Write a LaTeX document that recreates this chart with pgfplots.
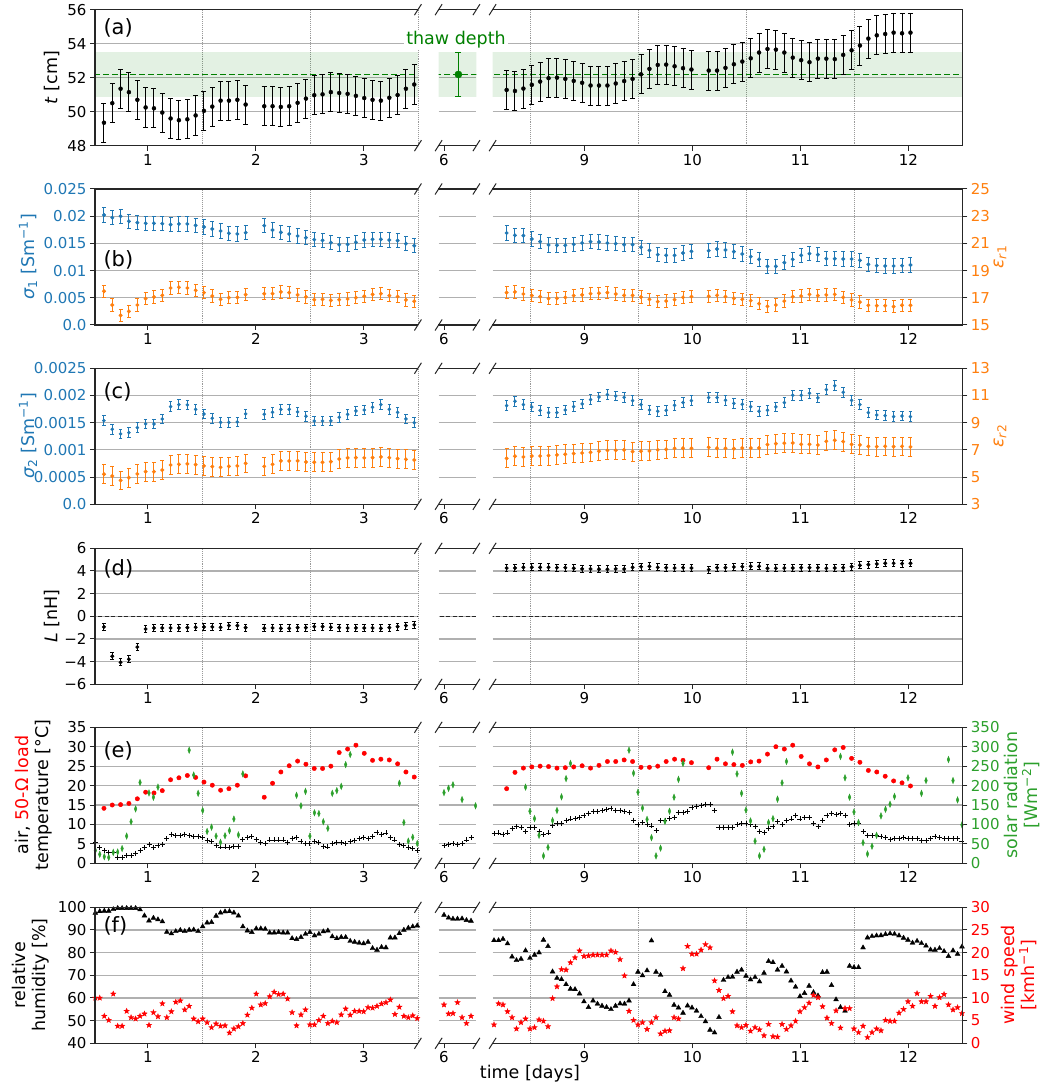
\documentclass[border=0pt]{standalone}
\usepackage{fontspec}
\setmainfont{DejaVu Sans}
\usepackage{pgfplots}
\usepackage{pgfplotstable}
\pgfplotsset{compat=1.18}

\definecolor{mplblue}{HTML}{1F77B4}
\definecolor{mplorange}{HTML}{FF7F0E}
\definecolor{mplgreen}{HTML}{2CA02C}
\definecolor{thawgreen}{HTML}{008000}
\definecolor{gridgray}{HTML}{B0B0B0}

\newcommand{\tickfont}{\fontsize{15}{18}\selectfont}
\newcommand{\labfont}{\fontsize{17.5}{20}\selectfont}
\newcommand{\panfont}{\fontsize{21}{25}\selectfont}

% filled five-pointed star
\pgfdeclareplotmark{fstar}{%
  \pgfpathmoveto{\pgfpointpolar{90}{\pgfplotmarksize}}%
  \pgfpathlineto{\pgfpointpolar{126}{0.42\pgfplotmarksize}}%
  \pgfpathlineto{\pgfpointpolar{162}{\pgfplotmarksize}}%
  \pgfpathlineto{\pgfpointpolar{198}{0.42\pgfplotmarksize}}%
  \pgfpathlineto{\pgfpointpolar{234}{\pgfplotmarksize}}%
  \pgfpathlineto{\pgfpointpolar{270}{0.42\pgfplotmarksize}}%
  \pgfpathlineto{\pgfpointpolar{306}{\pgfplotmarksize}}%
  \pgfpathlineto{\pgfpointpolar{342}{0.42\pgfplotmarksize}}%
  \pgfpathlineto{\pgfpointpolar{18}{\pgfplotmarksize}}%
  \pgfpathlineto{\pgfpointpolar{54}{0.42\pgfplotmarksize}}%
  \pgfpathclose
  \pgfusepathqfillstroke
}

% thickness t, conductivities, permittivities, inductance, load temperature
% on the 37 + 48 probe readings
\pgfplotstableread{
x a b1 e1 s2 e2 L T
0.593 49.35 0.02022 17.48 0.001538 5.21 -0.94 14.15
0.670 50.50 0.01973 16.47 0.001379 5.08 -3.53 15.0
0.747 51.35 0.02000 15.71 0.001293 4.76 -4.06 15.1
0.824 51.15 0.01906 16.00 0.001317 4.96 -3.79 15.4
0.902 50.70 0.01881 16.47 0.001409 5.23 -2.71 16.6
0.979 50.25 0.01869 16.94 0.001477 5.40 -1.12 18.3
1.056 50.20 0.01869 17.06 0.001477 5.40 -1.03 18.1
1.133 49.95 0.01863 17.18 0.001569 5.52 -1.03 18.7
1.210 49.60 0.01844 17.72 0.001795 5.89 -1.03 21.5
1.287 49.50 0.01857 17.77 0.001832 5.94 -1.03 22.0
1.365 49.55 0.01857 17.72 0.001826 5.97 -1.00 22.6
1.442 49.78 0.01832 17.55 0.001746 5.92 -0.97 22.1
1.519 50.05 0.01801 17.38 0.001661 5.82 -0.94 20.9
1.596 50.30 0.01765 17.13 0.001581 5.77 -0.94 20.1
1.673 50.65 0.01728 16.89 0.001507 5.72 -0.97 18.8
1.750 50.65 0.01685 17.01 0.001507 5.79 -0.82 19.2
1.828 50.70 0.01673 17.03 0.001513 5.82 -0.82 20.1
1.905 50.42 0.01697 17.23 0.001661 6.01 -1.00 22.5
2.077 50.32 0.01826 17.30 0.001654 5.79 -1.06 17.0
2.154 50.32 0.01746 17.30 0.001691 5.94 -1.03 20.6
2.231 50.28 0.01703 17.43 0.001746 6.19 -1.06 23.5
2.308 50.32 0.01673 17.38 0.001746 6.19 -1.06 25.1
2.386 50.52 0.01636 17.21 0.001697 6.19 -1.00 26.3
2.463 50.77 0.01605 17.06 0.001618 6.11 -1.00 25.5
2.540 50.97 0.01569 16.86 0.001532 6.09 -0.91 24.4
2.617 51.02 0.01556 16.89 0.001532 6.09 -0.91 24.4
2.694 51.15 0.01513 16.81 0.001532 6.14 -0.97 25.0
2.771 51.10 0.01477 16.86 0.001599 6.33 -1.00 28.5
2.849 51.05 0.01483 16.91 0.001654 6.41 -1.03 29.4
2.926 50.93 0.01520 17.01 0.001716 6.43 -1.03 30.4
3.003 50.80 0.01562 17.11 0.001734 6.41 -1.03 28.3
3.080 50.70 0.01575 17.25 0.001783 6.43 -1.03 26.5
3.157 50.65 0.01575 17.30 0.001832 6.48 -1.06 26.8
3.235 50.82 0.01562 17.16 0.001746 6.43 -1.00 26.6
3.312 50.98 0.01550 17.08 0.001691 6.36 -0.91 25.6
3.389 51.35 0.01495 16.84 0.001569 6.31 -0.82 23.5
3.466 51.60 0.01458 16.74 0.001501 6.26 -0.76 22.2
}\tabL

\pgfplotstableread{
x a b1 e1 s2 e2 L T
8.280 51.28 0.01691 17.38 0.001814 6.38 4.26 19.2
8.357 51.22 0.01648 17.43 0.001893 6.53 4.26 23.4
8.435 51.36 0.01642 17.28 0.001832 6.48 4.32 24.5
8.513 51.58 0.01581 17.16 0.001789 6.55 4.32 24.8
8.590 51.77 0.01532 17.08 0.001728 6.55 4.32 25.0
8.668 51.97 0.01471 16.94 0.001685 6.58 4.32 24.9
8.746 52.00 0.01465 16.96 0.001685 6.63 4.29 24.5
8.823 51.93 0.01465 17.03 0.001734 6.68 4.29 24.6
8.901 51.81 0.01483 17.16 0.001795 6.73 4.24 24.8
8.979 51.70 0.01507 17.21 0.001844 6.77 4.18 25.1
9.057 51.54 0.01532 17.30 0.001924 6.82 4.18 24.5
9.135 51.54 0.01526 17.33 0.001973 6.90 4.15 25.2
9.213 51.54 0.01507 17.38 0.002016 6.97 4.15 26.2
9.290 51.66 0.01495 17.28 0.001991 6.97 4.18 26.2
9.368 51.80 0.01477 17.18 0.001967 7.00 4.18 26.6
9.446 51.93 0.01477 17.18 0.001906 6.87 4.32 26.2
9.524 52.20 0.01428 17.06 0.001832 6.90 4.38 24.7
9.602 52.52 0.01373 16.89 0.001734 6.92 4.41 24.7
9.679 52.75 0.01293 16.72 0.001710 7.00 4.32 25.0
9.757 52.77 0.01281 16.76 0.001728 7.04 4.29 26.2
9.835 52.67 0.01281 16.86 0.001820 7.12 4.26 26.8
9.913 52.56 0.01324 17.03 0.001869 7.12 4.29 26.5
9.991 52.48 0.01354 17.08 0.001906 7.12 4.26 25.9
10.151 52.42 0.01366 17.11 0.001961 7.19 4.12 24.6
10.228 52.42 0.01397 17.18 0.001961 7.12 4.29 26.8
10.306 52.58 0.01379 17.08 0.001912 7.12 4.29 25.6
10.384 52.79 0.01348 16.96 0.001857 7.09 4.35 25.4
10.462 52.95 0.01305 16.89 0.001838 7.14 4.38 25.2
10.540 53.14 0.01256 16.79 0.001795 7.14 4.41 26.1
10.617 53.48 0.01207 16.57 0.001710 7.14 4.41 26.3
10.695 53.69 0.01078 16.37 0.001728 7.39 4.24 28.1
10.773 53.65 0.01078 16.47 0.001789 7.46 4.24 30.0
10.851 53.48 0.01146 16.76 0.001869 7.49 4.26 29.4
10.929 53.18 0.01207 17.08 0.002004 7.51 4.26 30.4
11.007 53.03 0.01281 17.13 0.002004 7.41 4.29 27.5
11.084 52.91 0.01311 17.25 0.002040 7.41 4.29 25.6
11.162 53.12 0.01293 17.16 0.001955 7.36 4.29 24.8
11.240 53.12 0.01219 17.21 0.002108 7.63 4.24 26.6
11.318 53.09 0.01219 17.25 0.002181 7.71 4.26 29.2
11.396 53.34 0.01213 17.03 0.002059 7.61 4.29 29.8
11.474 53.61 0.01213 16.84 0.001912 7.41 4.38 27.0
11.551 53.89 0.01189 16.69 0.001832 7.36 4.50 26.0
11.629 54.30 0.01115 16.45 0.001685 7.26 4.56 23.9
11.707 54.49 0.01091 16.42 0.001642 7.24 4.62 23.5
11.785 54.57 0.01085 16.42 0.001630 7.26 4.68 22.4
11.863 54.65 0.01085 16.35 0.001612 7.24 4.68 21.2
11.941 54.61 0.01091 16.45 0.001624 7.26 4.65 20.7
12.019 54.65 0.01103 16.45 0.001612 7.22 4.68 19.9
}\tabR

% hourly weather station record: air temperature, solar radiation,
% relative humidity, wind speed
\pgfplotstableread{
x air sol rh wind
0.513 5.4 33 97.5 10.0
0.554 4.1 23 98.2 10.0
0.596 3.3 17 98.4 6.0
0.637 2.8 15 98.4 5.1
0.679 2.7 28 99.1 10.9
0.720 1.5 29 99.6 3.8
0.761 1.6 38 99.6 3.8
0.803 2.0 70 99.6 7.1
0.844 2.1 107 99.6 5.7
0.886 2.6 140 99.6 5.4
0.927 3.2 208 99.0 6.0
0.968 4.0 nan 96.3 6.5
1.010 4.8 181 94.1 4.0
1.051 4.1 170 95.3 6.8
1.093 4.7 196 94.6 5.9
1.134 4.9 nan 93.7 8.75
1.175 6.3 nan 89.1 5.7
1.217 7.5 nan 88.4 7.0
1.258 7.1 nan 89.4 9.1
1.300 7.2 nan 89.9 9.4
1.341 7.5 nan 89.4 7.4
1.382 7.1 291 90.0 8.2
1.424 6.8 227 90.1 5.4
1.465 6.9 180 89.4 4.8
1.507 6.6 136 91.5 5.4
1.548 5.9 82 93.2 4.6
1.589 5.7 93 93.4 3.5
1.631 4.5 70 96.2 4.3
1.672 4.2 54 97.6 3.8
1.714 4.2 71 98.1 3.9
1.755 4.1 84 98.2 2.3
1.796 4.4 114 97.6 3.2
1.838 4.3 73 96.3 3.7
1.879 6.1 230 91.5 4.4
1.921 6.7 nan 89.7 6.25
1.962 6.8 nan 89.0 7.8
2.003 6.1 nan 90.6 10.9
2.045 5.4 nan 90.6 8.5
2.086 5.1 nan 90.4 8.8
2.128 6.0 nan 88.8 10.3
2.169 6.0 nan 88.8 11.3
2.210 6.0 nan 89.0 10.8
2.252 6.0 nan 88.8 10.9
2.293 5.4 nan 88.8 9.8
2.335 6.5 nan 86.3 6.8
2.376 6.7 175 85.9 3.9
2.417 5.7 148 86.8 6.3
2.459 5.1 185 88.2 7.4
2.500 5.1 70 89.0 4.1
2.542 5.6 130 87.5 4.1
2.583 5.3 128 88.2 5.1
2.624 4.3 107 89.3 6.0
2.666 4.2 90 89.7 4.4
2.707 5.1 180 87.1 4.9
2.749 5.4 187 86.3 4.6
2.790 5.3 198 86.8 6.3
2.831 5.1 254 86.8 7.6
2.873 5.7 280 85.1 6.25
2.914 5.9 nan 84.7 7.1
2.956 6.3 nan 84.3 7.1
2.997 6.7 nan 84.0 7.0
3.038 6.3 nan 84.7 7.9
3.080 7.0 nan 81.9 7.8
3.121 8.0 nan 81.2 8.2
3.163 7.5 nan 82.4 8.7
3.204 7.8 nan 82.2 9.0
3.245 6.7 nan 86.6 9.6
3.287 6.0 nan 86.6 6.4
3.328 4.9 206 88.5 8.0
3.370 4.5 105 90.0 6.0
3.411 4.1 57 90.9 5.7
3.452 3.7 67 91.5 6.1
3.494 3.3 51 91.9 5.5
3.535 3.1 69 93.1 6.0
}\wxL

\pgfplotstableread{
x air sol rh wind
6.000 4.5 182 96.6 8.5
6.042 4.9 193 95.4 6.5
6.083 5.0 202 94.9 6.6
6.125 4.8 nan 94.9 9.0
6.167 5.0 164 95.0 5.7
6.208 6.0 nan 94.3 4.4
6.250 6.6 nan 94.0 6.0
6.292 nan 148 nan nan
}\wxM

\pgfplotstableread{
x air sol rh wind
8.163 7.7 nan 85.4 4.1
8.205 7.8 nan 85.4 8.75
8.246 7.5 nan 86.0 8.5
8.288 7.8 nan 84.0 7.0
8.330 9.0 nan 78.2 5.7
8.371 9.4 nan 76.6 3.2
8.413 9.2 nan 77.2 4.6
8.455 8.1 196 80.9 5.4
8.496 9.2 134 77.6 3.2
8.538 9.2 115 79.0 3.5
8.580 8.2 72 80.0 5.2
8.621 7.3 19 85.6 4.9
8.663 7.8 41 82.8 3.7
8.705 9.8 110 71.6 9.9
8.746 10.3 136 68.8 12.5
8.788 10.3 171 68.2 16.3
8.830 11.1 218 66.0 16.2
8.871 11.4 257 64.0 17.8
8.913 11.5 nan 63.8 18.9
8.955 11.7 nan 61.9 20.4
8.996 12.3 nan 58.4 19.2
9.038 12.9 nan 55.9 19.3
9.080 13.4 nan 58.8 19.5
9.121 13.4 nan 57.4 19.5
9.163 13.6 nan 56.5 19.5
9.205 13.9 nan 55.9 19.5
9.246 14.0 nan 55.0 20.4
9.288 13.7 nan 56.5 20.1
9.330 13.6 nan 57.5 18.5
9.371 13.4 nan 57.4 14.9
9.413 13.0 291 58.8 7.1
9.455 11.1 232 66.0 5.1
9.496 10.1 183 71.5 4.1
9.538 10.5 142 69.9 4.6
9.580 10.0 113 72.1 3.1
9.621 9.6 66 85.3 4.6
9.663 8.4 19 71.5 5.7
9.705 10.9 39 70.1 2.1
9.746 11.1 108 62.9 2.7
9.788 11.6 134 61.3 2.8
9.830 11.8 170 56.9 5.7
9.871 13.0 216 55.7 5.4
9.913 13.1 257 53.4 16.5
9.955 13.4 nan 56.6 21.4
9.996 14.3 nan 55.7 19.7
10.038 14.7 nan 54.3 19.7
10.080 15.0 nan 51.9 20.6
10.121 15.2 nan 49.6 21.8
10.163 15.2 nan 45.9 21.1
10.205 13.6 nan 44.7 13.8
10.246 9.3 nan 51.5 11.7
10.288 9.3 nan 67.9 9.9
10.330 9.2 nan 69.1 10.4
10.371 9.3 286 69.3 7.0
10.413 10.0 230 71.5 3.9
10.455 10.3 180 72.4 3.5
10.496 10.2 137 69.7 4.0
10.538 10.1 109 68.1 2.7
10.580 9.4 57 69.1 3.5
10.621 8.3 19 67.2 3.0
10.663 8.0 36 71.0 1.7
10.705 8.9 105 76.2 4.2
10.746 9.5 115 75.7 1.5
10.788 10.7 165 72.4 1.4
10.830 9.9 207 74.1 4.2
10.871 10.9 262 71.6 3.1
10.913 11.4 nan 67.6 3.9
10.955 12.4 nan 64.9 4.9
10.996 11.4 nan 60.7 7.0
11.038 11.8 nan 62.1 7.9
11.080 11.8 nan 65.3 8.9
11.121 10.3 nan 62.5 10.6
11.163 9.4 nan 61.0 10.1
11.205 11.1 nan 71.3 8.1
11.246 12.2 nan 71.5 5.6
11.288 12.9 nan 65.6 4.4
11.330 12.5 nan 59.3 7.2
11.371 12.7 275 55.9 3.4
11.413 12.4 220 54.3 7.7
11.455 10.1 170 74.1 7.7
11.496 10.3 132 73.5 3.2
11.538 10.3 105 73.5 2.4
11.580 8.2 53 82.2 3.8
11.621 7.2 24 86.6 1.3
11.663 7.2 44 87.2 2.4
11.705 7.1 72 87.5 3.2
11.746 6.9 122 87.6 2.8
11.788 6.6 139 88.1 5.1
11.830 6.2 152 88.4 4.9
11.871 6.4 172 88.2 4.9
11.913 6.4 nan 87.5 6.7
11.955 6.6 nan 86.5 7.5
11.996 6.3 220 85.6 9.2
12.038 6.3 nan 84.3 8.2
12.080 6.3 nan 85.1 11.0
12.121 5.9 180 84.1 9.2
12.163 5.9 213 83.0 9.2
12.205 6.4 nan 81.3 10.4
12.246 6.8 nan 81.2 8.2
12.288 6.6 nan 81.9 10.1
12.330 6.3 nan 80.6 10.8
12.371 6.5 267 78.4 8.5
12.413 6.4 213 80.9 7.4
12.455 6.3 163 79.4 7.9
12.496 5.7 99 82.6 6.6
}\wxR

\tikzset{
  spine/.style={line width=1.1pt, black!85, line cap=rect},
  brk/.style={line width=1pt, black!85},
}

\pgfplotsset{
  every axis/.append style={
    scale only axis, height=136pt, anchor=south west,
    axis line style={draw=none},
    tick align=outside, major tick length=5pt,
    tick style={black!85, line width=1pt},
    tick label style={font=\tickfont},
    /pgf/number format/assume math mode=true,
    scaled y ticks=false, scaled x ticks=false,
    xtick pos=bottom,
    major grid style={gridgray, line width=1.1pt},
  },
  segL/.style={at={(95pt,#1)}, width=322.92pt, xmin=0.51, xmax=3.5, xtick={1,2,3}},
  segM/.style={at={(438.6pt,#1)}, width=37.8pt, xmin=5.95, xmax=6.3, xtick={6}},
  segR/.style={at={(492.6pt,#1)}, width=469.8pt, xmin=8.15, xmax=12.5, xtick={9,10,11,12}},
  main/.style={ymajorgrids, ytick pos=left},
  inner/.style={main, yticklabels={}, ytick style={draw=none}},
  gridL/.style={extra x ticks={1.5,2.5,3.5}, extra x tick labels={},
    extra x tick style={grid=major, major grid style={gray!80, densely dotted, line width=0.7pt}, major tick length=0pt}},
  gridR/.style={extra x ticks={8.5,9.5,10.5,11.5}, extra x tick labels={},
    extra x tick style={grid=major, major grid style={gray!80, densely dotted, line width=0.7pt}, major tick length=0pt}},
  twin/.style={hide axis},
  twinR/.style={axis x line=none, axis y line*=right, ytick pos=right},
  band/.style={draw=none, fill=thawgreen, fill opacity=0.11, forget plot},
  thaw/.style={thawgreen, line width=1.3pt, dash pattern=on 6pt off 3pt},
  zero/.style={black!85, line width=1.2pt, dash pattern=on 4pt off 2.5pt},
  errpts/.style n args={4}{only marks, mark=*, mark size=#3, color=#1,
    error bars/y dir=both, error bars/y fixed=#2,
    error bars/error bar style={line width=1pt, #1},
    error bars/error mark options={rotate=90, mark size=#4, line width=0.9pt, #1}},
  % sigma_2 axis is drawn in mS/m internally, labelled in S/m
  sigtwo/.style={ymin=0, ymax=2.5, ytick={0,0.5,1,1.5,2,2.5}},
}

\newcommand{\spL}[1]{\draw[spine] (#1.north east) -- (#1.north west) -- (#1.south west) -- (#1.south east);}
\newcommand{\spM}[1]{\draw[spine] (#1.north west) -- (#1.north east) (#1.south west) -- (#1.south east);}
\newcommand{\spR}[1]{\draw[spine] (#1.north west) -- (#1.north east) -- (#1.south east) -- (#1.south west);}
\newcommand{\brkat}[1]{\draw[brk] (#1) ++(-3.5pt,-5.5pt) -- ++(7pt,11pt);}
\newcommand{\brks}[3]{\brkat{#1.north east}\brkat{#1.south east}%
  \brkat{#2.north west}\brkat{#2.south west}\brkat{#2.north east}\brkat{#2.south east}%
  \brkat{#3.north west}\brkat{#3.south west}}

\begin{document}
\begin{tikzpicture}[x=1pt, y=1pt]
\path[use as bounding box] (0,0) rectangle (1043,1089);

% ================= (a) thickness
\begin{axis}[segL=943.3pt, main, gridL, ymin=48, ymax=56, ytick={48,50,52,54,56}, name=aL]
\addplot[band] coordinates {(0,50.87) (13,50.87) (13,53.49) (0,53.49)};
\addplot[thaw] coordinates {(0,52.19) (13,52.19)};
\addplot[errpts={black}{1.15}{2pt}{2.5pt}] table[x=x, y=a] {\tabL};
\end{axis}
\begin{axis}[segM=943.3pt, inner, ymin=48, ymax=56, ytick={48,50,52,54,56}, name=aM]
\addplot[band] coordinates {(0,50.87) (13,50.87) (13,53.49) (0,53.49)};
\addplot[thaw] coordinates {(0,52.19) (13,52.19)};
\addplot[errpts={thawgreen}{1.31}{3.6pt}{3pt}] coordinates {(6.133,52.19)};
\end{axis}
\begin{axis}[segR=943.3pt, inner, gridR, ymin=48, ymax=56, ytick={48,50,52,54,56}, name=aR]
\addplot[band] coordinates {(0,50.87) (13,50.87) (13,53.49) (0,53.49)};
\addplot[thaw] coordinates {(0,52.19) (13,52.19)};
\addplot[errpts={black}{1.15}{2pt}{2.5pt}] table[x=x, y=a] {\tabR};
\end{axis}
\spL{aL}\spM{aM}\spR{aR}\brks{aL}{aM}{aR}
\node[font=\labfont, text=thawgreen, fill=white, inner sep=2pt] at (456,1049) {thaw depth};
\node[font=\labfont, rotate=90] at (52,1011.5) {\textit{t} [cm]};
\node[font=\panfont, anchor=west] at (100,1061) {(a)};

% ================= (b) sigma_1, eps_r1
\begin{axis}[segL=764pt, main, gridL, ymin=0, ymax=0.025, ytick={0,0.005,0.01,0.015,0.02,0.025},
  yticklabels={0.0,0.005,0.01,0.015,0.02,0.025}, yticklabel style={text=mplblue}, name=bL]
\addplot[errpts={mplblue}{0.0013}{1.8pt}{2pt}] table[x=x, y=b1] {\tabL};
\end{axis}
\begin{axis}[segL=764pt, twin, ymin=15, ymax=25]
\addplot[errpts={mplorange}{0.45}{1.8pt}{2pt}] table[x=x, y=e1] {\tabL};
\end{axis}
\begin{axis}[segM=764pt, inner, ymin=0, ymax=0.025, ytick={0,0.005,0.01,0.015,0.02,0.025}, name=bM]
\addplot[draw=none, forget plot] coordinates {(6,-1)};
\end{axis}
\begin{axis}[segR=764pt, inner, gridR, ymin=0, ymax=0.025, ytick={0,0.005,0.01,0.015,0.02,0.025}, name=bR]
\addplot[errpts={mplblue}{0.0013}{1.8pt}{2pt}] table[x=x, y=b1] {\tabR};
\end{axis}
\begin{axis}[segR=764pt, twinR, ymin=15, ymax=25, ytick={15,17,...,25}, yticklabel style={text=mplorange}]
\addplot[errpts={mplorange}{0.45}{1.8pt}{2pt}] table[x=x, y=e1] {\tabR};
\end{axis}
\spL{bL}\spM{bM}\spR{bR}\brks{bL}{bM}{bR}
\node[font=\labfont, rotate=90, text=mplblue] at (28,832) {\textit{σ}\textsubscript{1} [Sm\textsuperscript{−1}]};
\node[font=\labfont, rotate=90, text=mplorange] at (1000,832) {\textit{ε}\textsubscript{\textit{r}1}};
\node[font=\panfont, anchor=west] at (100,829) {(b)};

% ================= (c) sigma_2, eps_r2
\begin{axis}[segL=584.7pt, main, gridL, sigtwo,
  yticklabels={0.0,0.0005,0.001,0.0015,0.002,0.0025}, yticklabel style={text=mplblue}, name=cL]
\addplot[errpts={mplblue}{0.09}{1.6pt}{1.8pt}] table[x=x, y expr=1000*\thisrow{s2}] {\tabL};
\end{axis}
\begin{axis}[segL=584.7pt, twin, ymin=3, ymax=13]
\addplot[errpts={mplorange}{0.69}{1.8pt}{2pt}] table[x=x, y=e2] {\tabL};
\end{axis}
\begin{axis}[segM=584.7pt, inner, sigtwo, name=cM]
\addplot[draw=none, forget plot] coordinates {(6,-1)};
\end{axis}
\begin{axis}[segR=584.7pt, inner, gridR, sigtwo, name=cR]
\addplot[errpts={mplblue}{0.09}{1.6pt}{1.8pt}] table[x=x, y expr=1000*\thisrow{s2}] {\tabR};
\end{axis}
\begin{axis}[segR=584.7pt, twinR, ymin=3, ymax=13, ytick={3,5,...,13}, yticklabel style={text=mplorange}]
\addplot[errpts={mplorange}{0.69}{1.8pt}{2pt}] table[x=x, y=e2] {\tabR};
\end{axis}
\spL{cL}\spM{cM}\spR{cR}\brks{cL}{cM}{cR}
\node[font=\labfont, rotate=90, text=mplblue] at (28,653) {\textit{σ}\textsubscript{2} [Sm\textsuperscript{−1}]};
\node[font=\labfont, rotate=90, text=mplorange] at (1000,653) {\textit{ε}\textsubscript{\textit{r}2}};
\node[font=\panfont, anchor=west] at (100,697) {(c)};

% ================= (d) inductance
\begin{axis}[segL=404.7pt, main, gridL, ymin=-6, ymax=6, ytick={-6,-4,...,6},
  yticklabels={−6,−4,−2,0,2,4,6}, name=dL]
\addplot[zero] coordinates {(0,0) (13,0)};
\addplot[errpts={black}{0.3}{1.8pt}{1.8pt}] table[x=x, y=L] {\tabL};
\end{axis}
\begin{axis}[segM=404.7pt, inner, ymin=-6, ymax=6, ytick={-6,-4,...,6}, name=dM]
\addplot[zero] coordinates {(0,0) (13,0)};
\end{axis}
\begin{axis}[segR=404.7pt, inner, gridR, ymin=-6, ymax=6, ytick={-6,-4,...,6}, name=dR]
\addplot[zero] coordinates {(0,0) (13,0)};
\addplot[errpts={black}{0.3}{1.8pt}{1.8pt}] table[x=x, y=L] {\tabR};
\end{axis}
\spL{dL}\spM{dM}\spR{dR}\brks{dL}{dM}{dR}
\node[font=\labfont, rotate=90] at (52,473) {\textit{L} [nH]};
\node[font=\panfont, anchor=west] at (100,520) {(d)};

% ================= (e) temperatures and solar radiation
\begin{axis}[segL=225.7pt, main, gridL, ymin=0, ymax=35, ytick={0,5,...,35}, name=eL]
\addplot[only marks, mark=+, mark size=2.5pt, line width=0.9pt, black] table[x=x, y=air] {\wxL};
\addplot[only marks, mark=*, mark size=2.2pt, red] table[x=x, y=T] {\tabL};
\end{axis}
\begin{axis}[segL=225.7pt, twin, ymin=0, ymax=350]
\addplot[only marks, mark=diamond*, mark size=3.2pt, mplgreen, mark options={xscale=0.55}] table[x=x, y=sol] {\wxL};
\end{axis}
\begin{axis}[segM=225.7pt, inner, ymin=0, ymax=35, ytick={0,5,...,35}, name=eM]
\addplot[only marks, mark=+, mark size=2.5pt, line width=0.9pt, black] table[x=x, y=air] {\wxM};
\end{axis}
\begin{axis}[segM=225.7pt, twin, ymin=0, ymax=350]
\addplot[only marks, mark=diamond*, mark size=3.2pt, mplgreen, mark options={xscale=0.55}] table[x=x, y=sol] {\wxM};
\end{axis}
\begin{axis}[segR=225.7pt, inner, gridR, ymin=0, ymax=35, ytick={0,5,...,35}, name=eR]
\addplot[only marks, mark=+, mark size=2.5pt, line width=0.9pt, black] table[x=x, y=air] {\wxR};
\addplot[only marks, mark=*, mark size=2.2pt, red] table[x=x, y=T] {\tabR};
\end{axis}
\begin{axis}[segR=225.7pt, twinR, ymin=0, ymax=350, ytick={0,50,...,350}, yticklabel style={text=mplgreen}]
\addplot[only marks, mark=diamond*, mark size=3.2pt, mplgreen, mark options={xscale=0.55}] table[x=x, y=sol] {\wxR};
\end{axis}
\spL{eL}\spM{eM}\spR{eR}\brks{eL}{eM}{eR}
\node[font=\labfont, rotate=90, align=center] at (34,294) {air, \textcolor{red}{50-Ω load}\\temperature [°C]};
\node[font=\labfont, rotate=90, align=center, text=mplgreen] at (1022,294) {solar radiation\\{}[Wm\textsuperscript{−2}]};
\node[font=\panfont, anchor=west] at (100,338) {(e)};

% ================= (f) humidity and wind
\begin{axis}[segL=45.7pt, main, gridL, ymin=40, ymax=100, ytick={40,50,...,100}, name=fL]
\addplot[only marks, mark=triangle*, mark size=2.8pt, black] table[x=x, y=rh] {\wxL};
\end{axis}
\begin{axis}[segL=45.7pt, twin, ymin=0, ymax=30]
\addplot[only marks, mark=fstar, mark size=2.8pt, red] table[x=x, y=wind] {\wxL};
\end{axis}
\begin{axis}[segM=45.7pt, inner, ymin=40, ymax=100, ytick={40,50,...,100}, name=fM]
\addplot[only marks, mark=triangle*, mark size=2.8pt, black] table[x=x, y=rh] {\wxM};
\end{axis}
\begin{axis}[segM=45.7pt, twin, ymin=0, ymax=30]
\addplot[only marks, mark=fstar, mark size=2.8pt, red] table[x=x, y=wind] {\wxM};
\end{axis}
\begin{axis}[segR=45.7pt, inner, gridR, ymin=40, ymax=100, ytick={40,50,...,100}, name=fR]
\addplot[only marks, mark=triangle*, mark size=2.8pt, black] table[x=x, y=rh] {\wxR};
\end{axis}
\begin{axis}[segR=45.7pt, twinR, ymin=0, ymax=30, ytick={0,5,...,30}, yticklabel style={text=red}]
\addplot[only marks, mark=fstar, mark size=2.8pt, red] table[x=x, y=wind] {\wxR};
\end{axis}
\spL{fL}\spM{fM}\spR{fR}\brks{fL}{fM}{fR}
\node[font=\labfont, rotate=90, align=center] at (31,114) {relative\\humidity [\%]};
\node[font=\labfont, rotate=90, align=center, text=red] at (1019,114) {wind speed\\{}[kmh\textsuperscript{−1}]};
\node[font=\panfont, anchor=west] at (100,163) {(f)};

\node[font=\labfont] at (530,15) {time [days]};
\end{tikzpicture}
\end{document}
